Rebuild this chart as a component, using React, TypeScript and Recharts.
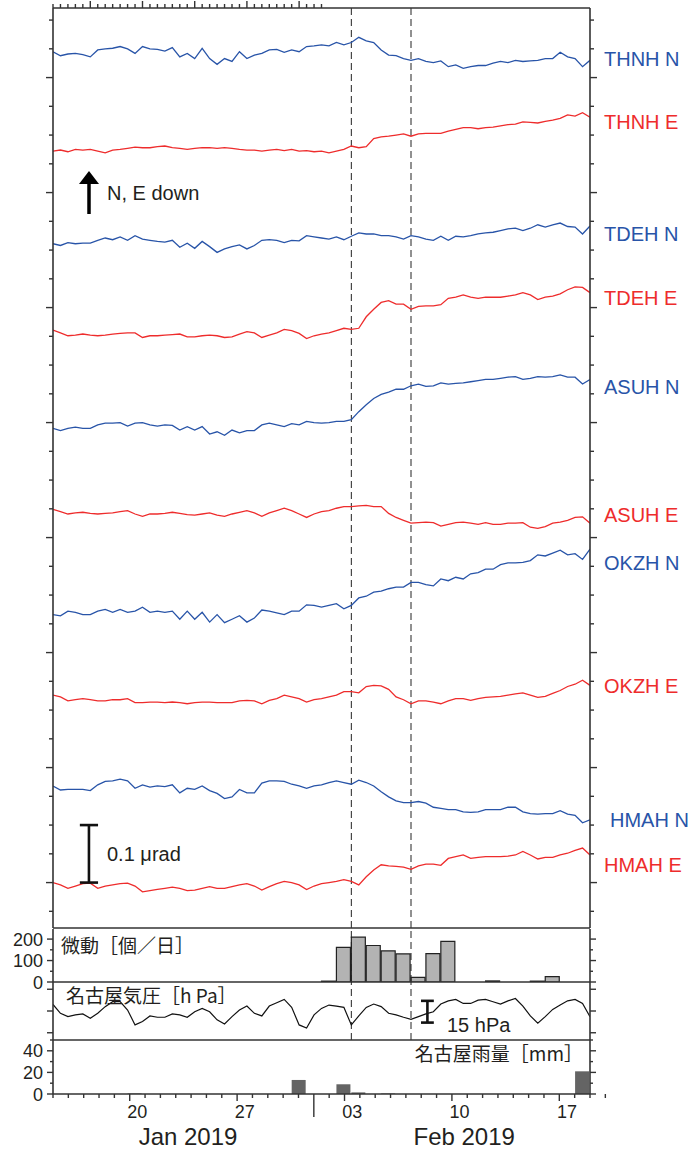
import React from "react";
import { LineChart, Line, BarChart, Bar, XAxis, YAxis, ReferenceLine } from "recharts";

// time grid: days since 2019-01-15 00:00
const DAYS = [0, 0.5, 1, 1.5, 2, 2.5, 3, 3.5, 4, 4.5, 5, 5.5, 6, 6.5, 7, 7.5, 8, 8.5, 9, 9.5, 10, 10.5, 11, 11.5, 12, 12.5, 13, 13.5, 14, 14.5, 15, 15.5, 16, 16.5, 17, 17.5, 18, 18.5, 19, 19.5, 20, 20.5, 21, 21.5, 22, 22.5, 23, 23.5, 24, 24.5, 25, 25.5, 26, 26.5, 27, 27.5, 28, 28.5, 29, 29.5, 30, 30.5, 31, 31.5, 32, 32.5, 33, 33.5, 34, 34.5, 35, 35.5, 36];

// tilt changes in nrad, relative to each trace's level
const THNH_N = [0, -7, -4, -3, -5, -9, 3, 5, 6, 9, 5, -3, 9, 5, 4, 1, 7, -9, -3, -12, 6, -12, -22, -12, -17, 0, -12, -6, -3, 3, 4, -1, 3, 0, 9, 10, 12, 10, 16, 12, 16, 25, 19, 16, 3, -6, -7, -12, -15, -12, -17, -19, -16, -26, -23, -29, -26, -24, -24, -20, -17, -19, -15, -17, -16, -15, -12, -12, -1, -9, -12, -26, -15];
const THNH_E = [0, 2, -1, 3, 2, 3, 0, -3, 2, 3, 5, 7, 6, 6, 8, 9, 6, 5, 3, 5, 6, 6, 5, 6, 5, 3, 2, 2, 0, 2, 3, 1, 3, 0, 1, -1, 0, -3, 0, 3, 9, 6, 8, 22, 25, 26, 28, 30, 26, 30, 31, 31, 31, 35, 38, 41, 41, 39, 41, 42, 44, 46, 47, 51, 50, 49, 52, 54, 57, 63, 61, 67, 59];
const TDEH_N = [0, -3, 2, 0, 1, 1, 6, 10, 7, 12, 6, 14, 8, 6, 4, 3, 6, -6, 1, -8, 4, -5, -15, -9, -5, -2, -9, -3, 6, 7, 6, 2, 6, 5, 14, 12, 10, 8, 12, 7, 13, 19, 17, 17, 14, 14, 12, 8, 14, 12, 8, 6, 13, 6, 13, 12, 14, 17, 19, 20, 23, 26, 27, 23, 27, 33, 29, 33, 36, 30, 29, 17, 31];
const TDEH_E = [7, 2, -3, -2, 0, -2, -3, -2, 0, 1, 2, 2, -6, -3, -3, -2, -1, 0, -5, -5, -3, -2, -3, -6, -5, 0, 4, 2, -6, -2, 2, 8, 6, 1, -8, -3, 0, 2, 6, 10, 8, 10, 30, 43, 55, 58, 52, 52, 43, 48, 49, 49, 51, 62, 64, 68, 64, 62, 64, 64, 64, 66, 68, 72, 68, 60, 64, 66, 70, 77, 82, 81, 72];
const ASUH_N = [0, -4, 0, 2, 0, 0, 6, 9, 9, 10, 4, 9, 10, 6, 4, 6, 5, -3, 3, -3, 3, -10, -6, -12, -3, -8, -4, -4, 6, 9, 6, 3, 8, 6, 12, 10, 9, 10, 12, 12, 15, 29, 41, 52, 59, 63, 68, 68, 74, 77, 73, 74, 79, 77, 78, 79, 81, 83, 85, 85, 87, 89, 90, 85, 87, 90, 89, 90, 93, 89, 89, 77, 85];
const ASUH_E = [0, -4, -8, -6, -5, -7, -8, -7, -6, -4, -2, -8, -12, -8, -8, -7, -5, -7, -9, -10, -8, -6, -10, -12, -8, -5, -2, -6, -12, -6, -2, 2, -2, -8, -14, -8, -4, -2, 2, 5, 5, 6, 7, 5, 5, -7, -14, -19, -24, -23, -22, -23, -29, -26, -23, -22, -24, -26, -23, -26, -26, -24, -24, -23, -31, -33, -30, -24, -22, -19, -14, -13, -24];
const OKZH_N = [0, -2, 6, 4, 0, 0, 6, 9, 4, 9, 4, 6, 13, 4, 6, 4, 6, -8, 6, -8, 4, -13, 0, -14, -8, -2, -13, -6, 8, 6, 3, 0, 6, 6, 17, 16, 13, 16, 19, 10, 16, 29, 32, 39, 41, 45, 48, 48, 56, 56, 52, 50, 62, 59, 65, 62, 71, 73, 79, 79, 87, 90, 90, 91, 94, 104, 102, 107, 112, 104, 106, 96, 114];
const OKZH_E = [0, -3, -10, -8, -6, -8, -10, -10, -8, -8, -6, -13, -13, -12, -12, -13, -12, -13, -15, -13, -12, -12, -13, -13, -13, -10, -9, -10, -15, -9, -6, 0, -3, -6, -12, -8, -6, -3, 0, 6, 6, 4, 15, 17, 16, 10, -3, -8, -15, -10, -10, -12, -15, -10, -6, -6, -9, -6, -4, -3, -2, 0, 2, 4, 0, -4, -2, 3, 8, 15, 19, 26, 17];
const HMAH_N = [0, -7, -6, -6, -6, -8, 2, 8, 9, 12, 9, -4, 2, -2, 0, -1, 2, -12, -4, -6, 0, -8, -13, -22, -19, -6, -12, -12, 5, 9, 9, 8, 3, 0, -4, 0, 2, 6, 9, 6, 3, 10, 6, 0, -10, -19, -26, -29, -29, -27, -30, -37, -39, -41, -41, -45, -46, -45, -41, -41, -41, -37, -37, -45, -48, -49, -48, -48, -43, -49, -51, -64, -59];
const HMAH_E = [0, -4, -10, -6, -2, -1, -10, -6, -4, -2, -1, -6, -16, -14, -12, -10, -8, -10, -14, -13, -10, -7, -10, -10, -7, -4, -2, -6, -13, -7, -2, 2, 0, -4, -12, -6, -2, 0, 2, 5, 2, -4, 10, 22, 31, 29, 28, 27, 23, 29, 32, 32, 30, 42, 45, 48, 42, 44, 45, 45, 45, 46, 48, 54, 48, 41, 44, 44, 48, 51, 56, 60, 48];

// stacking level of each trace (nrad)
const LEVELS = [1445, 1272, 1111, 954, 790, 649, 466, 326, 168, 0];
const NAMES = ["THNH N", "THNH E", "TDEH N", "TDEH E", "ASUH N", "ASUH E", "OKZH N", "OKZH E", "HMAH N", "HMAH E"];
const SERIES = [THNH_N, THNH_E, TDEH_N, TDEH_E, ASUH_N, ASUH_E, OKZH_N, OKZH_E, HMAH_N, HMAH_E];

// daily tremor counts and Nagoya rainfall (mm), one value per day from Jan 15
const TREMOR = [0, 0, 0, 0, 0, 0, 0, 0, 0, 0, 0, 0, 0, 0, 0, 0, 0, 0, 4, 161, 209, 170, 145, 131, 22, 132, 189, 0, 0, 5, 0, 0, 4, 25, 0, 0];
const RAIN = [0, 0, 0, 0, 0, 0.5, 0, 0, 0, 0, 0, 0, 0, 0, 0, 0, 13, 0, 0, 9, 1.5, 0, 0.5, 0, 0, 0, 0, 0, 0, 0, 0, 0, 0, 0, 0, 21];

// Nagoya air pressure (hPa), half-day samples
const PRESSURE = [1019.5, 1013.4, 1011.1, 1012.3, 1013.0, 1010.0, 1013.4, 1018.0, 1021.4, 1021.4,
  1015.7, 1005.4, 1007.7, 1011.6, 1010.7, 1010.7, 1013.0, 1012.3, 1010.7, 1014.5,
  1016.8, 1014.5, 1008.9, 1006.1, 1011.1, 1015.7, 1018.4, 1013.4, 1011.6, 1018.4,
  1020.7, 1023.0, 1017.5, 1005.4, 1003.2, 1012.3, 1016.8, 1019.1, 1018.4, 1017.5,
  1005.4, 1011.6, 1017.5, 1019.8, 1018.0, 1013.4, 1012.3, 1010.7, 1009.3, 1011.1,
  1013.0, 1014.5, 1019.8, 1022.0, 1023.0, 1020.2, 1020.2, 1022.5, 1023.0, 1021.4,
  1019.8, 1022.0, 1023.6, 1018.4, 1011.6, 1006.6, 1011.1, 1016.1, 1019.1, 1022.0,
  1023.0, 1020.2, 1011.1];

const EVENT_DAYS = [20, 24];
const WEEK_TICKS = [5, 12, 19, 26, 33];
const MONTH_TICK = 17;
const DATE_LABEL_POS = [5.5, 12.5, 19.5, 26.5, 33.5];
const DATE_LABELS = ["20", "27", "03", "10", "17"];
const MONTH_LABEL_POS = [8.8, 26.8];
const MONTHS = ["Jan 2019", "Feb 2019"];

const DAY_TICKS = Array.from({ length: 37 }, (_, i) => i);
const MAIN_Y_TICKS = Array.from({ length: 32 }, (_, i) => -50 + i * 50);

const FONT = "'Liberation Sans', Arial, sans-serif";
const CJK = "'Noto Sans CJK JP', 'Noto Sans CJK SC', sans-serif";
const INK = "#231f20";
const FRAME = "#333";
const BLUE = "#2854a8";
const RED = "#ee2c2c";
const frameLine = { stroke: FRAME, strokeWidth: 1.6 };
// axes are 1px wide/high, so margins are one less than the plot edges
const margin = (top: number, bottom: number) => ({ top, bottom, left: 52, right: 99 });

const LABEL_Y = [59, 122, 234, 298, 387, 515, 563, 686, 820, 865];

const tiltRows = DAYS.map((day, i) => {
  const row: Record<string, number> = { day };
  SERIES.forEach((s, k) => (row["t" + k] = LEVELS[k] + s[i]));
  return row;
});
const pressureRows = DAYS.map((day, i) => ({ day, p: PRESSURE[i] }));
const tremorRows = TREMOR.map((n, i) => ({ day: i + 0.5, n }));
const rainRows = RAIN.map((mm, i) => ({ day: i + 0.5, mm }));

function sideTick(dir: number, isMajor: (v: number) => boolean, long: number, short: number, labels: number[] = []) {
  return (props: any) => {
    const { x, y, payload } = props;
    const v = payload.value as number;
    const len = isMajor(v) ? long : short;
    return (
      <g>
        <line x1={x} x2={x + dir * len} y1={y} y2={y} stroke={FRAME} strokeWidth={1.4} />
        {labels.includes(v) && (
          <text x={x - 10} y={y + 6.5} textAnchor="end" fontSize={18} fontFamily={FONT} fill={INK}>
            {v}
          </text>
        )}
      </g>
    );
  };
}

const noTick = () => <g />;

const topTick = (props: any) => {
  const { x, y, payload } = props;
  const len = WEEK_TICKS.includes(payload.value) ? 7 : 4;
  return <line x1={x} x2={x} y1={y} y2={y - len} stroke={FRAME} strokeWidth={1.4} />;
};

const bottomTick = (props: any) => {
  const { x, y, payload } = props;
  const v = payload.value as number;
  const di = DATE_LABEL_POS.indexOf(v);
  if (di >= 0)
    return (
      <text x={x} y={y + 24} textAnchor="middle" fontSize={18} fontFamily={FONT} fill={INK}>
        {DATE_LABELS[di]}
      </text>
    );
  const mi = MONTH_LABEL_POS.indexOf(v);
  if (mi >= 0)
    return (
      <text x={x} y={y + 51} textAnchor="middle" fontSize={24} fontFamily={FONT} fill={INK}>
        {MONTHS[mi]}
      </text>
    );
  const len = v === MONTH_TICK ? 23 : WEEK_TICKS.includes(v) ? 7 : 4;
  return <line x1={x} x2={x} y1={y} y2={y + len} stroke={FRAME} strokeWidth={1.4} />;
};

const baseX = <XAxis xAxisId={0} dataKey="day" type="number" domain={[0, 36]} ticks={[0, 36]} height={0} hide allowDataOverflow />;
const bottomLine = (
  <XAxis xAxisId="bot" orientation="bottom" type="number" domain={[0, 36]} height={1} ticks={[0, 36]} tickSize={0} tickLine={false} tick={noTick} axisLine={frameLine} allowDataOverflow />
);
const events = EVENT_DAYS.map((d) => (
  <ReferenceLine key={d} x={d} stroke="#222" strokeWidth={1} strokeDasharray="7 4" />
));

function yAxes(domain: number[], ticks: number[], isMajor: (v: number) => boolean, long: number, short: number, labels: number[] = []) {
  const common = {
    type: "number" as const,
    domain,
    ticks,
    interval: 0,
    width: 1,
    tickSize: 0,
    tickMargin: 0,
    tickLine: false,
    axisLine: frameLine,
    allowDataOverflow: true,
  };
  return [
    <YAxis key="l" yAxisId={0} {...common} tick={sideTick(-1, isMajor, long, short, labels)} />,
    <YAxis key="r" yAxisId="r" orientation="right" {...common} tick={sideTick(1, isMajor, long, short)} />,
  ];
}

export default function App() {
  return (
    <div style={{ position: "absolute", left: 0, top: 0, width: 690, height: 1149, background: "#fff", overflow: "hidden" }}>
      <div style={{ position: "absolute", left: 0, top: 0 }}>
        <LineChart width={690} height={936} data={tiltRows} margin={margin(7, 7)}>
          {baseX}
          <XAxis xAxisId="top" orientation="top" type="number" domain={[0, 36]} ticks={DAY_TICKS} interval={0} height={1} tickSize={0} tickMargin={0} tickLine={false} tick={topTick} axisLine={frameLine} allowDataOverflow />
          {bottomLine}
          {yAxes([-79, 1521], MAIN_Y_TICKS, (v) => v % 200 === 0, 7, 4)}
          {events}
          {SERIES.map((_, k) => (
            <Line key={k} dataKey={"t" + k} type="linear" stroke={k % 2 === 0 ? BLUE : RED} strokeWidth={1.3} dot={false} isAnimationActive={false} />
          ))}
          <ReferenceLine segment={[{ x: 2.41, y: 0 }, { x: 2.41, y: 100 }]} stroke="#111" strokeWidth={2.6} />
          <ReferenceLine segment={[{ x: 1.8, y: 0 }, { x: 3.02, y: 0 }]} stroke="#111" strokeWidth={2.6} />
          <ReferenceLine segment={[{ x: 1.8, y: 100 }, { x: 3.02, y: 100 }]} stroke="#111" strokeWidth={2.6} />
        </LineChart>
      </div>
      <div style={{ position: "absolute", left: 0, top: 921 }}>
        <BarChart width={690} height={80} data={tremorRows} margin={margin(8, 18)}>
          {baseX}
          {bottomLine}
          {yAxes([0, 247], [0, 50, 100, 150, 200], (v) => v % 100 === 0, 6, 3, [0, 100, 200])}
          {events}
          <Bar dataKey="n" barSize={14} fill="#b3b3b3" stroke="#222" strokeWidth={1.2} isAnimationActive={false} />
        </BarChart>
      </div>
      <div style={{ position: "absolute", left: 0, top: 974 }}>
        <LineChart width={690} height={74} data={pressureRows} margin={margin(8, 7)}>
          {baseX}
          {bottomLine}
          {yAxes([995, 1035], [1000, 1015, 1030], () => true, 6, 6)}
          {events}
          <Line dataKey="p" type="linear" stroke="#111" strokeWidth={1.2} dot={false} isAnimationActive={false} />
          <ReferenceLine segment={[{ x: 25.1, y: 1007 }, { x: 25.1, y: 1022 }]} stroke="#111" strokeWidth={2.6} />
          <ReferenceLine segment={[{ x: 24.67, y: 1007 }, { x: 25.53, y: 1007 }]} stroke="#111" strokeWidth={2.6} />
          <ReferenceLine segment={[{ x: 24.67, y: 1022 }, { x: 25.53, y: 1022 }]} stroke="#111" strokeWidth={2.6} />
        </LineChart>
      </div>
      <div style={{ position: "absolute", left: 0, top: 1032 }}>
        <BarChart width={690} height={117} data={rainRows} margin={margin(8, 54)}>
          {baseX}
          <XAxis xAxisId="bot" orientation="bottom" type="number" domain={[0, 36]} ticks={[...DAY_TICKS, ...DATE_LABEL_POS, ...MONTH_LABEL_POS]} interval={0} height={1} tickSize={0} tickMargin={0} tickLine={false} tick={bottomTick} axisLine={frameLine} allowDataOverflow />
          {yAxes([0, 50], [0, 10, 20, 30, 40, 50], (v) => v % 20 === 0, 6, 3, [0, 20, 40])}
          <Bar dataKey="mm" barSize={14} fill="#646464" isAnimationActive={false} />
        </BarChart>
      </div>
      <svg width={690} height={1149} style={{ position: "absolute", left: 0, top: 0, pointerEvents: "none" }}>
        {NAMES.map((name, k) => (
          <text key={name} x={k === 8 ? 610 : 604} y={LABEL_Y[k] + 7} fontSize={20} fontFamily={FONT} fill={k % 2 === 0 ? BLUE : RED}>
            {name}
          </text>
        ))}
        <line x1={89} y1={214} x2={89} y2={182} stroke="#000" strokeWidth={3.5} />
        <polygon points="79,184 99,184 89,171" fill="#000" />
        <text x={107} y={200} fontSize={20} fontFamily={FONT} fill={INK}>N, E down</text>
        <text x={107} y={861} fontSize={20} fontFamily={FONT} fill={INK}>0.1 μrad</text>
        <text x={61} y={953} fontSize={19} fontFamily={CJK} fill={INK}>微動［個／日］</text>
        <text x={66} y={1003} fontSize={19} fontFamily={CJK} fill={INK}>名古屋気圧［h Pa］</text>
        <text x={583} y={1061} fontSize={19} fontFamily={CJK} fill={INK} textAnchor="end">名古屋雨量［mm］</text>
        <text x={447} y={1032} fontSize={20} fontFamily={FONT} fill={INK}>15 hPa</text>
      </svg>
    </div>
  );
}
